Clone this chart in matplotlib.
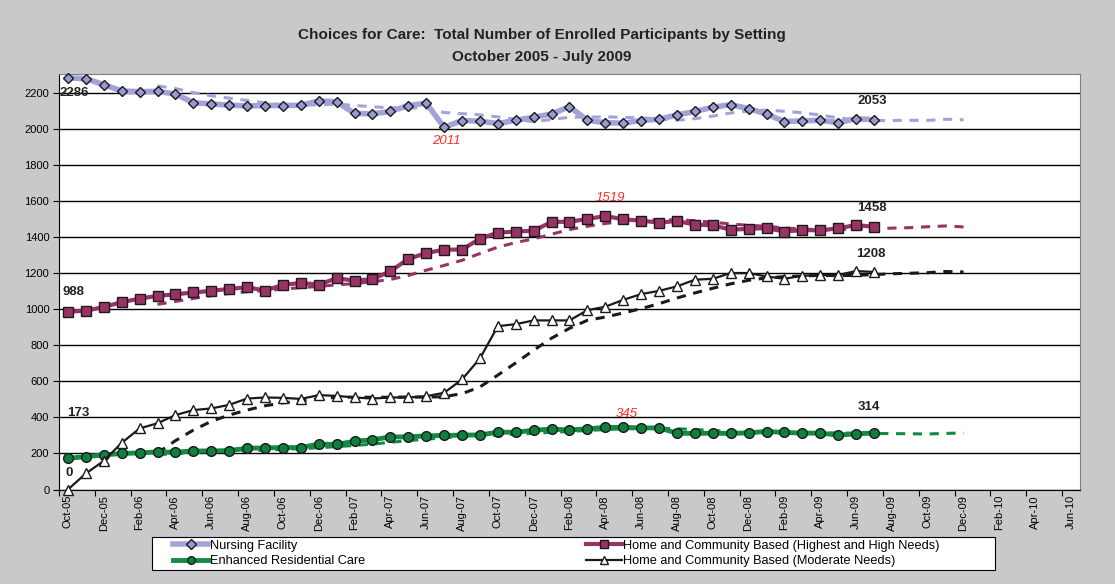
import matplotlib.pyplot as plt
import numpy as np
import pandas as pd
from matplotlib.patches import Rectangle

plt.rcParams["font.family"] = ["Liberation Sans", "DejaVu Sans"]

# monthly categories Oct-05 .. Jun-10 (data runs to Jul-09)
months = pd.date_range("2005-10-01", "2010-06-01", freq="MS")
month_labels = [m.strftime("%b-%y") for m in months]

nursing = [2286, 2281, 2248, 2213, 2209, 2211, 2196, 2148, 2141, 2134,
           2130, 2132, 2132, 2134, 2157, 2154, 2088, 2086, 2099, 2132,
           2145, 2011, 2049, 2045, 2032, 2050, 2067, 2085, 2126, 2050,
           2037, 2034, 2049, 2056, 2080, 2099, 2123, 2137, 2115, 2085,
           2043, 2047, 2050, 2037, 2059, 2053]
hcb_high = [988, 992, 1014, 1040, 1060, 1075, 1084, 1094, 1103, 1114,
            1123, 1105, 1136, 1147, 1138, 1173, 1160, 1168, 1212, 1280,
            1313, 1332, 1332, 1393, 1426, 1432, 1437, 1486, 1487, 1502,
            1519, 1500, 1493, 1482, 1491, 1471, 1467, 1443, 1447, 1452,
            1432, 1441, 1439, 1450, 1469, 1458]
erc = [173, 183, 192, 200, 203, 209, 207, 214, 214, 216,
       229, 231, 233, 233, 252, 250, 268, 276, 292, 292,
       298, 300, 302, 303, 318, 318, 329, 335, 331, 337,
       345, 345, 342, 342, 313, 311, 313, 311, 315, 322,
       317, 313, 313, 302, 309, 314]
hcb_moderate = [0, 89, 159, 259, 339, 368, 413, 441, 450, 470,
                505, 511, 509, 503, 524, 520, 511, 505, 511, 511,
                518, 537, 611, 728, 907, 918, 939, 939, 939, 996,
                1015, 1053, 1085, 1103, 1128, 1165, 1170, 1202, 1202, 1183,
                1170, 1187, 1191, 1191, 1213, 1208]

series = [
    ("Nursing Facility", nursing, "#a3a3d9", "#9a9ad2", "D", 5.5, 4.0),
    ("Home and Community Based (Highest and High Needs)", hcb_high, "#993366", "#993366", "s", 7, 3.0),
    ("Enhanced Residential Care", erc, "#138a45", "#0f7f3c", "o", 7, 3.5),
    ("Home and Community Based (Moderate Needs)", hcb_moderate, "#1a1a1a", "white", "^", 7, 1.6),
]

fig = plt.figure(figsize=(11.15, 5.84), dpi=100, facecolor="#c9c9cb")
ax = fig.add_axes([59 / 1115, 1 - 489.5 / 584, (1080 - 59) / 1115, (489.5 - 73.5) / 584])
ax.set_facecolor("white")

trend_end = 51  # 6-month moving average trendline drawn out to Dec-09
handles = []
for name, vals, lc, mfc, mk, ms, lw in series:
    x = np.arange(len(vals))
    padded = pd.Series(list(vals) + [np.nan] * (trend_end - len(vals)))
    ma = padded.rolling(6, min_periods=1).mean()
    ax.plot(np.arange(5, trend_end), ma[5:], color=lc, lw=2.2, ls=(0, (3, 2.5)), zorder=2)
    h, = ax.plot(x, vals, color=lc, lw=lw, marker=mk, markersize=ms,
                 markerfacecolor=mfc, markeredgecolor="#1a1a1a", markeredgewidth=1.0,
                 label=name, zorder=3, clip_on=False)
    handles.append(h)

ax.set_xlim(-0.5, 56.5)
ax.set_ylim(0, 2310)
ax.set_yticks(np.arange(0, 2201, 200))
ax.yaxis.grid(True, color="black", lw=1.0)
ax.set_axisbelow(True)
ax.tick_params(axis="y", labelsize=8, length=4, direction="out", pad=3)

ax.set_xticks(np.arange(-0.5, 56, 2), minor=False)
ax.set_xticklabels([])
ax.set_xticks(np.arange(0, 57, 2), minor=True)
ax.set_xticklabels(month_labels[::2], minor=True, rotation=90, fontsize=8)
ax.tick_params(axis="x", which="major", length=4, direction="out")
ax.tick_params(axis="x", which="minor", length=0, pad=4)

for side in ["top", "right"]:
    ax.spines[side].set_color("#808080")
for side in ["left", "bottom"]:
    ax.spines[side].set_color("black")

bold = dict(fontsize=9.5, fontweight="bold", color="#222222", ha="center", va="center", zorder=5)
red = dict(fontsize=9.5, style="italic", color="#ff2a2a", ha="center", va="center", zorder=5)
ax.text(-0.45, 2200, "2286", **{**bold, "ha": "left"})
ax.text(44.9, 2157, "2053", **bold)
ax.text(0.33, 1096, "988", **bold)
ax.text(44.9, 1563, "1458", **bold)
ax.text(44.8, 1307, "1208", **bold)
ax.text(0.6, 424, "173", **bold)
ax.text(44.7, 457, "314", **bold)
ax.text(0.05, 90, "0", **bold)
ax.text(21.1, 1935, "2011", **red)
ax.text(30.3, 1618, "1519", **red)
ax.text(31.2, 418, "345", **red)

fig.text(0.486, 1 - 35 / 584, "Choices for Care:  Total Number of Enrolled Participants by Setting",
         ha="center", va="center", fontsize=11, fontweight="bold", color="#222222")
fig.text(0.486, 1 - 57 / 584, "October 2005 - July 2009",
         ha="center", va="center", fontsize=11, fontweight="bold", color="#222222")

# legend box drawn separately so the entries can sit inset like the original
fig.patches.append(Rectangle((152 / 1115, 1 - 570 / 584), (995 - 152) / 1115, 33 / 584,
                             transform=fig.transFigure, facecolor="white",
                             edgecolor="black", lw=0.8, zorder=1))
leg = fig.legend(handles=[handles[0], handles[2], handles[1], handles[3]],
                 ncol=2, loc="center left",
                 bbox_to_anchor=(173 / 1115, 1 - 553.5 / 584),
                 fontsize=9.2, frameon=False,
                 handlelength=2.75, handletextpad=0.15, columnspacing=17.3,
                 labelspacing=0.25, borderpad=0, borderaxespad=0)
for lh in leg.legend_handles:
    lh.set_markersize(5.5)

fig.savefig("out.png", dpi=100, facecolor=fig.get_facecolor())
